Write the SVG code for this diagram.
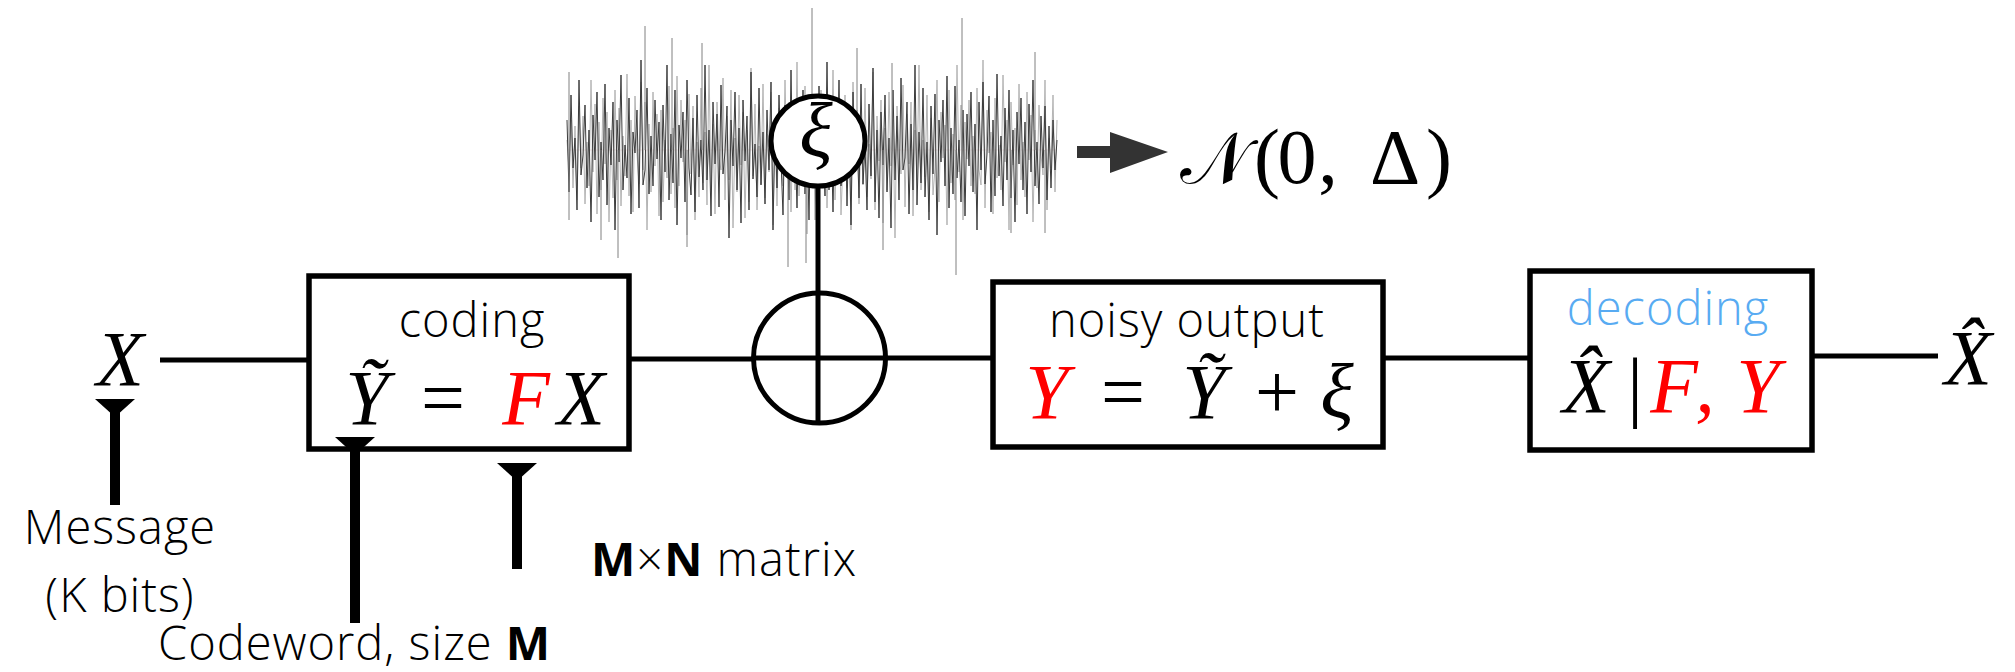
<svg xmlns="http://www.w3.org/2000/svg" width="2015" height="672" viewBox="0 0 2015 672">
<style>
.box{fill:#fff;stroke:#000;stroke-width:5.5}
.wire{stroke:#000;stroke-width:5;fill:none}
.stub{stroke:#000;stroke-width:10;fill:none}
.lbl{font-family:"Open Sans","Liberation Sans",sans-serif;font-size:47px;font-weight:300;letter-spacing:1px;fill:#000}
.mi{font-family:"Liberation Serif",serif;font-style:italic;font-size:78px;fill:#000}
.mr{font-family:"Liberation Serif",serif;font-size:78px;fill:#000}
.red{fill:#ff0000}
.b{font-weight:700}
.noise{fill:none;stroke-width:1}
</style>
<defs>
<marker id="tee" markerUnits="userSpaceOnUse" viewBox="0 -25 40 50" refX="0" refY="0" markerWidth="40" markerHeight="50" orient="auto" overflow="visible"><path d="M0,-20 L0,20 L18,0 Z" fill="#000"/></marker>
<path id="nz" d="M567,120 L569,192 571,95 573,168 575,138 577,210 579,80 581,175 583,155 585,105 587,188 589,130 591,222 593,115 595,160 597,92 599,197 601,142 603,180 605,84 607,205 609,128 611,165 613,102 615,230 617,120 619,162 621,75 623,190 625,145 627,178 629,98 631,214 633,132 635,153 637,110 639,208 641,60 643,185 645,170 647,88 649,194 651,136 653,186 655,100 657,159 659,122 661,220 663,105 665,172 667,65 669,200 671,134 673,183 675,90 677,225 679,125 681,158 683,112 685,202 687,80 689,168 691,195 693,118 695,212 697,95 699,177 701,140 703,190 705,65 707,180 709,130 711,216 713,102 715,164 717,114 719,207 721,85 723,174 725,152 727,106 729,238 731,120 733,166 735,92 737,190 739,128 741,223 743,100 745,161 747,116 749,210 751,72 753,179 755,144 757,197 759,88 761,185 763,132 765,204 767,110 769,170 771,82 773,230 775,124 777,188 779,95 781,160 783,215 785,105 787,135 789,200 791,70 793,182 795,138 797,208 799,114 801,175 803,90 805,194 807,130 809,220 811,98 813,156 815,120 817,234 819,86 821,178 823,142 825,196 827,62 829,190 831,126 833,212 835,102 837,168 839,80 841,186 843,162 845,108 847,206 849,122 851,225 853,92 855,172 857,134 859,198 861,84 863,184 865,146 867,210 869,104 871,176 873,68 875,202 877,130 879,218 881,112 883,165 885,95 887,192 889,138 891,228 893,90 895,180 897,116 899,200 901,78 903,170 905,158 907,102 909,214 911,124 913,190 915,65 917,205 919,132 921,183 923,88 925,197 927,142 929,220 931,106 933,174 935,94 937,235 939,120 941,162 943,100 945,186 947,76 949,208 951,128 953,194 955,86 957,178 959,140 961,202 963,110 965,216 967,114 969,166 971,92 973,192 975,124 977,230 979,102 981,170 983,82 985,184 987,154 989,96 991,212 993,120 995,196 997,74 999,176 1001,136 1003,206 1005,108 1007,180 1009,90 1011,198 1013,130 1015,222 1017,112 1019,164 1021,98 1023,190 1025,122 1027,214 1029,104 1031,172 1033,80 1035,186 1037,142 1039,204 1041,116 1043,168 1045,106 1047,200 1049,126 1051,188 1053,120 1055,170 1057,140"/>
</defs>
<rect width="2015" height="672" fill="#fff"/>

<g id="noise-signal">
<line x1="567" y1="150" x2="1057" y2="150" stroke="#e8b8b8" stroke-width="0.6" opacity="0.6"/>
<use href="#nz" class="noise" stroke="#b4b4b4" transform="translate(1624,0) scale(-1,1)"/>
<use href="#nz" class="noise" stroke="#3c3c3c"/>
<path class="noise" stroke="#808080" d="M645,150V26M812,150V8M962,150V18M1035,150V52M672,150V38M702,150V43M857,150V48M892,150V63M618,150V258M788,150V267M806,150V263M956,150V275M601,150V240M687,150V247M883,150V250M1011,150V233M1045,150V233M569,150V72M569,150V220"/>
</g>

<g id="xi-source">
<ellipse cx="818" cy="141" rx="47" ry="45" fill="#fff" stroke="#000" stroke-width="5"/>
<text class="mi" x="816" y="157" text-anchor="middle" font-size="70">ξ</text>
</g>

<g id="gaussian-label">
<text x="1214" y="183" text-anchor="middle" font-family="DejaVu Serif, Liberation Serif, serif" font-size="72">𝒩</text>
<text class="mr" x="1267" y="183" text-anchor="middle">(</text>
<text class="mr" x="1297" y="183" text-anchor="middle">0</text>
<text class="mr" x="1328" y="183" text-anchor="middle">,</text>
<text class="mr" x="1395" y="183" text-anchor="middle">Δ</text>
<text class="mr" x="1439" y="183" text-anchor="middle">)</text>
</g>

<g id="input-x">
<text class="mi" x="120" y="385" text-anchor="middle">X</text>
</g>

<g id="message-label">
<text class="lbl" x="120" y="544" text-anchor="middle">Message</text>
<text class="lbl" x="120" y="612" text-anchor="middle">(K bits)</text>
</g>

<g id="codeword-label">
<text class="lbl" x="158" y="660">Codeword, size <tspan class="b">M</tspan></text>
</g>

<g id="matrix-label">
<text class="lbl" x="591" y="576"><tspan class="b">M</tspan>×<tspan class="b">N</tspan> matrix</text>
</g>

<g id="coding">
<rect class="box" x="309" y="276" width="320" height="173"/>
<text class="lbl" x="472" y="337" text-anchor="middle">coding</text>
<text class="mi" x="367" y="424" text-anchor="middle">Ỹ</text>
<text class="mr" x="443" y="424" text-anchor="middle">=</text>
<text class="mi red" x="526" y="424" text-anchor="middle">F</text>
<text class="mi" x="581" y="424" text-anchor="middle">X</text>
</g>

<g id="adder">
<ellipse cx="819.5" cy="358" rx="66" ry="65" fill="none" stroke="#000" stroke-width="5"/>
<line class="wire" x1="753" y1="358" x2="886" y2="358"/>
<line class="wire" x1="818" y1="293" x2="818" y2="423"/>
</g>

<g id="noisy-output">
<rect class="box" x="993" y="282" width="390" height="165"/>
<text class="lbl" x="1187" y="337" text-anchor="middle">noisy output</text>
<text class="mi red" x="1047" y="418" text-anchor="middle">Y</text>
<text class="mr" x="1123" y="418" text-anchor="middle">=</text>
<text class="mi" x="1204" y="418" text-anchor="middle">Ỹ</text>
<text class="mr" x="1277" y="418" text-anchor="middle">+</text>
<text class="mi" x="1337" y="418" text-anchor="middle">ξ</text>
</g>

<g id="decoding">
<rect class="box" x="1530" y="271" width="282" height="179"/>
<text class="lbl" x="1668" y="325" text-anchor="middle" style="fill:#58abf2">decoding</text>
<text class="mi" x="1586" y="412" text-anchor="middle">X̂</text>
<text class="mr" x="1635" y="412" text-anchor="middle">|</text>
<text class="mi red" x="1674" y="412" text-anchor="middle">F</text>
<text class="mi red" x="1705" y="412" text-anchor="middle">,</text>
<text class="mi red" x="1758" y="412" text-anchor="middle">Y</text>
</g>

<g id="output-xhat">
<text class="mi" x="1968" y="384" text-anchor="middle">X̂</text>
</g>

<g id="connectors">
<line class="wire" x1="160" y1="360" x2="309" y2="360"/>
<line class="wire" x1="629" y1="359" x2="754" y2="359"/>
<line class="wire" x1="885" y1="358" x2="993" y2="358"/>
<line class="wire" x1="1383" y1="358" x2="1530" y2="358"/>
<line class="wire" x1="1812" y1="356" x2="1938" y2="356"/>
<line class="wire" x1="818" y1="186" x2="818" y2="294"/>
<line class="stub" x1="115" y1="399" x2="115" y2="505" marker-start="url(#tee)"/>
<line class="stub" x1="355" y1="437" x2="355" y2="623" marker-start="url(#tee)"/>
<line class="stub" x1="517" y1="463" x2="517" y2="569" marker-start="url(#tee)"/>
<polygon points="1077,146 1110,146 1110,132 1168,152 1110,173 1110,158 1077,158" fill="#333"/>
</g>
</svg>
